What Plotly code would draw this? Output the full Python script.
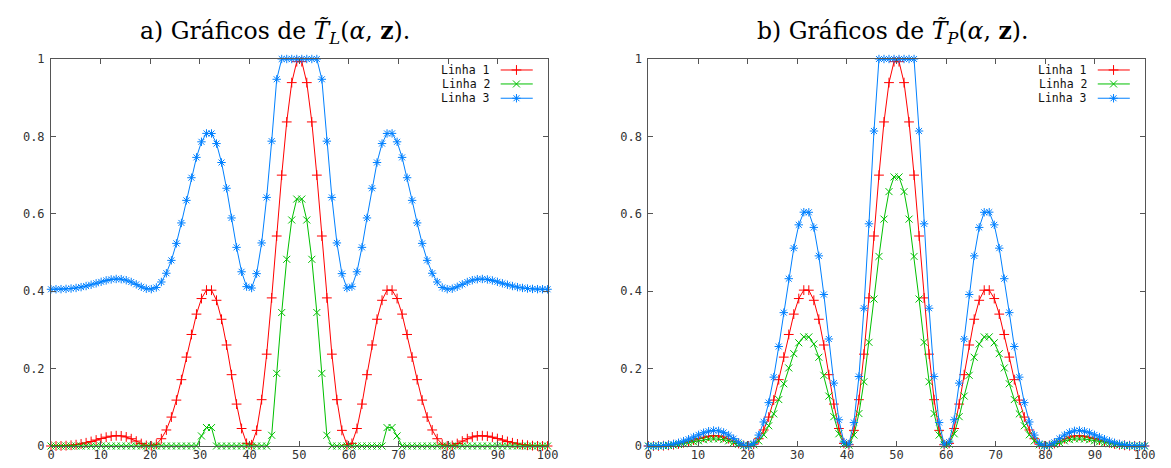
import numpy as np
import plotly.graph_objects as go

# ---------------- data ----------------
# sampling grid (gnuplot default 100 samples over [0, 100])
x_vals = np.linspace(0, 100, 100)

# Linha 1 (same in both panels)
linha1 = [
    0.0, 0.0001, 0.0003, 0.0009, 0.0019, 0.0034, 0.0055, 0.0083, 0.0117, 0.0154,
    0.0192, 0.0228, 0.0254, 0.0266, 0.0261, 0.0234, 0.0188, 0.0127, 0.0064, 0.0015,
    0.0003, 0.0046, 0.0188, 0.0414, 0.0747, 0.1186, 0.1714, 0.2297, 0.2882, 0.3408,
    0.3810, 0.4028, 0.4026, 0.3765, 0.3275, 0.2610, 0.1843, 0.1083, 0.0452, 0.0068,
    0.0032, 0.0404, 0.1197, 0.2373, 0.3827, 0.5426, 0.6999, 0.8374, 0.9390, 0.9931,
    0.9931, 0.9390, 0.8374, 0.6999, 0.5426, 0.3827, 0.2373, 0.1197, 0.0404, 0.0032,
    0.0068, 0.0452, 0.1083, 0.1843, 0.2610, 0.3275, 0.3765, 0.4026, 0.4028, 0.3810,
    0.3408, 0.2882, 0.2297, 0.1714, 0.1186, 0.0747, 0.0414, 0.0188, 0.0046, 0.0003,
    0.0015, 0.0064, 0.0127, 0.0188, 0.0234, 0.0261, 0.0266, 0.0254, 0.0228, 0.0192,
    0.0154, 0.0117, 0.0083, 0.0055, 0.0034, 0.0019, 0.0009, 0.0003, 0.0001, 0.0,
]

# Panel a) Linha 2
linha2_a = [
    0, 0, 0, 0, 0, 0, 0, 0, 0, 0,
    0, 0, 0, 0, 0, 0, 0, 0, 0, 0,
    0, 0, 0, 0, 0, 0, 0, 0, 0, 0,
    0.0260, 0.0478, 0.0476, 0, 0, 0, 0, 0, 0, 0,
    0, 0, 0, 0, 0.0277, 0.1876, 0.3449, 0.4824, 0.5840, 0.6381,
    0.6381, 0.5840, 0.4824, 0.3449, 0.1876, 0.0277, 0, 0, 0, 0,
    0, 0, 0, 0, 0, 0, 0, 0.0476, 0.0478, 0.0260,
    0, 0, 0, 0, 0, 0, 0, 0, 0, 0,
    0, 0, 0, 0, 0, 0, 0, 0, 0, 0,
    0, 0, 0, 0, 0, 0, 0, 0, 0, 0,
]

# Panel a) Linha 3
linha3_a = [
    0.4050, 0.4051, 0.4053, 0.4059, 0.4069, 0.4084, 0.4105, 0.4133, 0.4167, 0.4204,
    0.4242, 0.4278, 0.4304, 0.4316, 0.4311, 0.4284, 0.4238, 0.4177, 0.4114, 0.4065,
    0.4053, 0.4096, 0.4238, 0.4464, 0.4797, 0.5236, 0.5764, 0.6347, 0.6932, 0.7458,
    0.7860, 0.8078, 0.8076, 0.7815, 0.7325, 0.6660, 0.5893, 0.5133, 0.4502, 0.4118,
    0.4082, 0.4454, 0.5247, 0.6423, 0.7877, 0.9476, 1.0, 1.0, 1.0, 1.0,
    1.0, 1.0, 1.0, 1.0, 0.9476, 0.7877, 0.6423, 0.5247, 0.4454, 0.4082,
    0.4118, 0.4502, 0.5133, 0.5893, 0.6660, 0.7325, 0.7815, 0.8076, 0.8078, 0.7860,
    0.7458, 0.6932, 0.6347, 0.5764, 0.5236, 0.4797, 0.4464, 0.4238, 0.4096, 0.4053,
    0.4065, 0.4114, 0.4177, 0.4238, 0.4284, 0.4311, 0.4316, 0.4304, 0.4278, 0.4242,
    0.4204, 0.4167, 0.4133, 0.4105, 0.4084, 0.4069, 0.4059, 0.4053, 0.4051, 0.4050,
]

# Panel b) Linha 2
linha2_b = [
    0.0, 0.0000, 0.0002, 0.0006, 0.0013, 0.0024, 0.0039, 0.0058, 0.0082, 0.0108,
    0.0134, 0.0160, 0.0178, 0.0186, 0.0183, 0.0164, 0.0132, 0.0089, 0.0045, 0.0011,
    0.0002, 0.0032, 0.0132, 0.0290, 0.0523, 0.0830, 0.1200, 0.1608, 0.2017, 0.2386,
    0.2667, 0.2820, 0.2818, 0.2636, 0.2293, 0.1827, 0.1290, 0.0758, 0.0316, 0.0048,
    0.0022, 0.0283, 0.0838, 0.1661, 0.2679, 0.3798, 0.4899, 0.5862, 0.6573, 0.6952,
    0.6952, 0.6573, 0.5862, 0.4899, 0.3798, 0.2679, 0.1661, 0.0838, 0.0283, 0.0022,
    0.0048, 0.0316, 0.0758, 0.1290, 0.1827, 0.2293, 0.2636, 0.2818, 0.2820, 0.2667,
    0.2386, 0.2017, 0.1608, 0.1200, 0.0830, 0.0523, 0.0290, 0.0132, 0.0032, 0.0002,
    0.0011, 0.0045, 0.0089, 0.0132, 0.0164, 0.0183, 0.0186, 0.0178, 0.0160, 0.0134,
    0.0108, 0.0082, 0.0058, 0.0039, 0.0024, 0.0013, 0.0006, 0.0002, 0.0000, 0.0,
]

# Panel b) Linha 3
linha3_b = [
    0.0, 0.0001, 0.0005, 0.0013, 0.0028, 0.0051, 0.0083, 0.0125, 0.0176, 0.0231,
    0.0288, 0.0342, 0.0381, 0.0400, 0.0392, 0.0351, 0.0282, 0.0191, 0.0096, 0.0023,
    0.0005, 0.0069, 0.0282, 0.0621, 0.1121, 0.1779, 0.2571, 0.3446, 0.4323, 0.5112,
    0.5715, 0.6042, 0.6039, 0.5648, 0.4913, 0.3915, 0.2765, 0.1625, 0.0678, 0.0102,
    0.0048, 0.0606, 0.1796, 0.3560, 0.5741, 0.8139, 1.0, 1.0, 1.0, 1.0,
    1.0, 1.0, 1.0, 1.0, 0.8139, 0.5741, 0.3560, 0.1796, 0.0606, 0.0048,
    0.0102, 0.0678, 0.1625, 0.2765, 0.3915, 0.4913, 0.5648, 0.6039, 0.6042, 0.5715,
    0.5112, 0.4323, 0.3446, 0.2571, 0.1779, 0.1121, 0.0621, 0.0282, 0.0069, 0.0005,
    0.0023, 0.0096, 0.0191, 0.0282, 0.0351, 0.0392, 0.0400, 0.0381, 0.0342, 0.0288,
    0.0231, 0.0176, 0.0125, 0.0083, 0.0051, 0.0028, 0.0013, 0.0005, 0.0001, 0.0,
]

series_names = ["Linha 1", "Linha 2", "Linha 3"]
x_ticks = [0, 10, 20, 30, 40, 50, 60, 70, 80, 90, 100]
y_ticks = [0, 0.2, 0.4, 0.6, 0.8, 1]
y_tick_text = ["0", "0.2", "0.4", "0.6", "0.8", "1"]
titles = [
    "a) Gráficos de <i>T\u0303</i><sub><i>L</i></sub>(<i>α</i>, <b>z</b>).",
    "b) Gráficos de <i>T\u0303</i><sub><i>P</i></sub>(<i>α</i>, <b>z</b>).",
]

# ---------------- styles ----------------
colors = ["#ff0000", "#00c000", "#0080ff"]
symbols = ["cross-thin-open", "x-thin-open", "asterisk-open"]
W, H = 1171, 468
dom_a = [39.5 / W, 542.5 / W]
dom_b = [644.7 / W, 1147.3 / W]
mono = "DejaVu Sans Mono"
X_RANGE = [0, 100]
Y_RANGE = [0, 1]

# key (gnuplot style) placement, as fractions of the plot area
key_rows = [0.9716, 0.9355, 0.8986]
key_line = [0.9056, 0.9702]
key_point = 0.9374
key_text_right = 0.8877


def fx(f):
    return X_RANGE[0] + f * (X_RANGE[1] - X_RANGE[0])


def fy(f):
    return Y_RANGE[0] + f * (Y_RANGE[1] - Y_RANGE[0])


fig = go.Figure()

panels = [
    ("x", "y", [linha1, linha2_a, linha3_a]),
    ("x2", "y2", [linha1, linha2_b, linha3_b]),
]

for xa, ya, data in panels:
    for i, ys in enumerate(data):
        fig.add_trace(go.Scatter(
            x=x_vals, y=ys, xaxis=xa, yaxis=ya, mode="lines+markers",
            name=series_names[i], showlegend=False, cliponaxis=False,
            line=dict(color=colors[i], width=1),
            marker=dict(symbol=symbols[i], size=7, color=colors[i],
                        line=dict(color=colors[i], width=1)),
        ))
    # key samples
    for i in range(3):
        fig.add_trace(go.Scatter(
            x=[fx(key_line[0]), fx(key_line[1])], y=[fy(key_rows[i])] * 2,
            xaxis=xa, yaxis=ya, mode="lines", showlegend=False, hoverinfo="skip",
            line=dict(color=colors[i], width=1), cliponaxis=False,
        ))
        fig.add_trace(go.Scatter(
            x=[fx(key_point)], y=[fy(key_rows[i])], xaxis=xa, yaxis=ya,
            mode="markers", showlegend=False, hoverinfo="skip", cliponaxis=False,
            marker=dict(symbol=symbols[i], size=7, color=colors[i],
                        line=dict(color=colors[i], width=1)),
        ))

axis_common = dict(
    showline=True, linecolor="#555555", linewidth=1, mirror="ticks",
    ticks="inside", ticklen=5, tickwidth=1, tickcolor="#555555",
    showgrid=False, zeroline=False,
    tickfont=dict(family=mono, size=12, color="#333333"),
)

fig.update_layout(
    width=W, height=H,
    margin=dict(l=0, r=0, t=51, b=30),
    paper_bgcolor="white", plot_bgcolor="white",
    showlegend=False,
    xaxis=dict(domain=dom_a, range=X_RANGE, tickvals=x_ticks, anchor="y",
               ticklabelstandoff=-2, **axis_common),
    yaxis=dict(domain=[0, 1], range=Y_RANGE, tickvals=y_ticks, ticktext=y_tick_text,
               anchor="x", ticklabelstandoff=3, **axis_common),
    xaxis2=dict(domain=dom_b, range=X_RANGE, tickvals=x_ticks, anchor="y2",
                ticklabelstandoff=-2, **axis_common),
    yaxis2=dict(domain=[0, 1], range=Y_RANGE, tickvals=y_ticks, ticktext=y_tick_text,
                anchor="x2", ticklabelstandoff=3, **axis_common),
)

annotations = []
for xr, yr in [("x domain", "y domain"), ("x2 domain", "y2 domain")]:
    for i, nm in enumerate(series_names):
        annotations.append(dict(
            text=nm, xref=xr, yref=yr, x=key_text_right, y=key_rows[i],
            xanchor="right", yanchor="middle", showarrow=False,
            font=dict(family=mono, size=11.5, color="#111111"),
        ))
for j, t in enumerate(titles):
    annotations.append(dict(
        text=t, xref="paper", yref="paper", x=[266 / W, 892 / W][j], y=1 + 26 / 387,
        xanchor="center", yanchor="middle", showarrow=False,
        font=dict(family="DejaVu Serif", size=23.5, color="#000000"),
    ))
fig.update_layout(annotations=annotations)

fig.write_html("out.html")
